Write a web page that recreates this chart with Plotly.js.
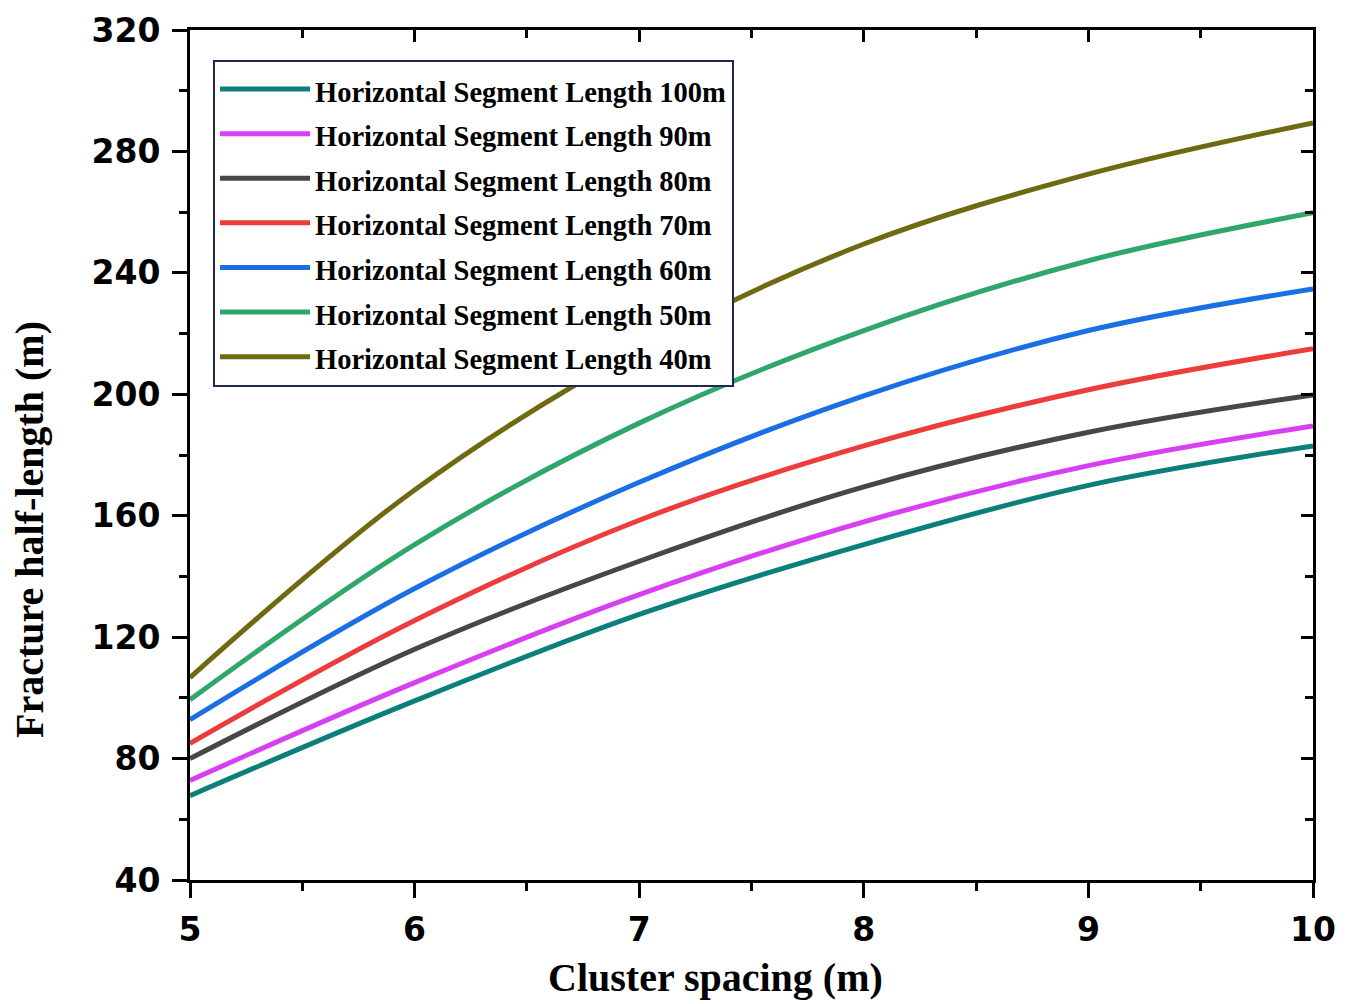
<!DOCTYPE html>
<html>
<head>
<meta charset="utf-8">
<script src="https://cdn.plot.ly/plotly-3.0.1.min.js"></script>
<style>html,body{margin:0;padding:0;background:#fff;}#chart{width:1350px;height:1004px;}</style>
</head>
<body>
<div id="chart"></div>
<script>
const spacing = [5, 6, 7, 8, 9, 10];
const len100 = [67.8, 99.0, 127.5, 150.5, 170.0, 183.0];
const len90  = [72.8, 105.0, 134.0, 158.0, 176.5, 189.6];
const len80  = [80.0, 116.0, 145.0, 169.5, 187.5, 199.8];
const len70  = [85.0, 125.5, 158.5, 183.0, 201.5, 215.0];
const len60  = [92.8, 136.0, 171.0, 199.5, 221.0, 234.7];
const len50  = [99.4, 150.5, 190.5, 221.0, 244.0, 259.8];
const len40  = [106.7, 168.5, 215.0, 249.5, 272.5, 289.4];
const seriesNames = [
  'Horizontal Segment Length 100m',
  'Horizontal Segment Length 90m',
  'Horizontal Segment Length 80m',
  'Horizontal Segment Length 70m',
  'Horizontal Segment Length 60m',
  'Horizontal Segment Length 50m',
  'Horizontal Segment Length 40m'
];
const xTitle = 'Cluster spacing (m)';
const yTitle = 'Fracture half-length (m)';
const seriesValues = [len100, len90, len80, len70, len60, len50, len40];
const colors = ['#0b7f7a', '#d63ff2', '#474747', '#ee3b3b', '#196fe3', '#2fa66a', '#6f6a12'];

const traces = seriesValues.map((v, i) => ({
  x: spacing, y: v, name: '<span style="font-size:28.5px">' + seriesNames[i] + '</span>',
  type: 'scatter', mode: 'lines',
  line: {color: colors[i], width: 5, shape: 'spline', smoothing: 1}
}));
traces.push({x: [], y: [], xaxis: 'x2', yaxis: 'y2', showlegend: false, hoverinfo: 'skip', type: 'scatter', mode: 'lines'});

const tickFont = {family: 'DejaVu Sans', size: 33, color: '#000', weight: 'bold'};
const titleFont = {family: 'Liberation Serif', size: 40, color: '#000', weight: 'bold'};

const layout = {
  width: 1350, height: 1004,
  margin: {l: 190, r: 37, t: 30, b: 124},
  paper_bgcolor: '#fff', plot_bgcolor: '#fff',
  showlegend: true,
  xaxis: {
    range: [5, 10], dtick: 1, tick0: 5, showgrid: false, zeroline: false,
    showline: true, linewidth: 3, linecolor: '#000', mirror: true,
    ticks: 'outside', ticklen: 15, tickwidth: 3, tickcolor: '#000',
    minor: {dtick: 0.5, ticks: 'outside', ticklen: 8, tickwidth: 3, tickcolor: '#000', showgrid: false},
    tickfont: tickFont, ticklabelstandoff: 3
  },
  yaxis: {
    range: [40, 320], dtick: 40, tick0: 40, showgrid: false, zeroline: false,
    showline: true, linewidth: 3, linecolor: '#000', mirror: true,
    ticks: 'outside', ticklen: 15, tickwidth: 3, tickcolor: '#000',
    minor: {dtick: 20, ticks: 'outside', ticklen: 8, tickwidth: 3, tickcolor: '#000', showgrid: false},
    tickfont: tickFont, ticklabelstandoff: 5
  },
  xaxis2: {
    overlaying: 'x', side: 'top', anchor: 'y2', range: [5, 10], dtick: 1, tick0: 5,
    showgrid: false, zeroline: false, showticklabels: false,
    ticks: 'inside', ticklen: 12, tickwidth: 3, tickcolor: '#000',
    minor: {dtick: 0.5, ticks: 'inside', ticklen: 8, tickwidth: 3, tickcolor: '#000', showgrid: false}
  },
  yaxis2: {
    overlaying: 'y', side: 'right', anchor: 'x2', range: [40, 320], dtick: 40, tick0: 40,
    showgrid: false, zeroline: false, showticklabels: false,
    ticks: 'inside', ticklen: 12, tickwidth: 3, tickcolor: '#000',
    minor: {dtick: 20, ticks: 'inside', ticklen: 8, tickwidth: 3, tickcolor: '#000', showgrid: false}
  },
  annotations: [
    {text: xTitle, xref: 'paper', yref: 'paper', x: 0.4675, y: 0, xanchor: 'center', yanchor: 'middle',
     yshift: -97, showarrow: false, font: titleFont},
    {text: yTitle, xref: 'paper', yref: 'paper', x: 0, y: 0.4118, xanchor: 'center', yanchor: 'middle',
     xshift: -160, textangle: -90, showarrow: false, font: titleFont}
  ],
  legend: {
    x: 0.0205, y: 0.965, xanchor: 'left', yanchor: 'top',
    bgcolor: '#fff', bordercolor: '#1f2a4a', borderwidth: 2,
    font: {family: 'Liberation Serif', size: 32, color: '#000', weight: 'bold'},
    itemwidth: 90, tracegroupgap: 0
  }
};

Plotly.newPlot('chart', traces, layout, {displayModeBar: false, staticPlot: true});
</script>
</body>
</html>
